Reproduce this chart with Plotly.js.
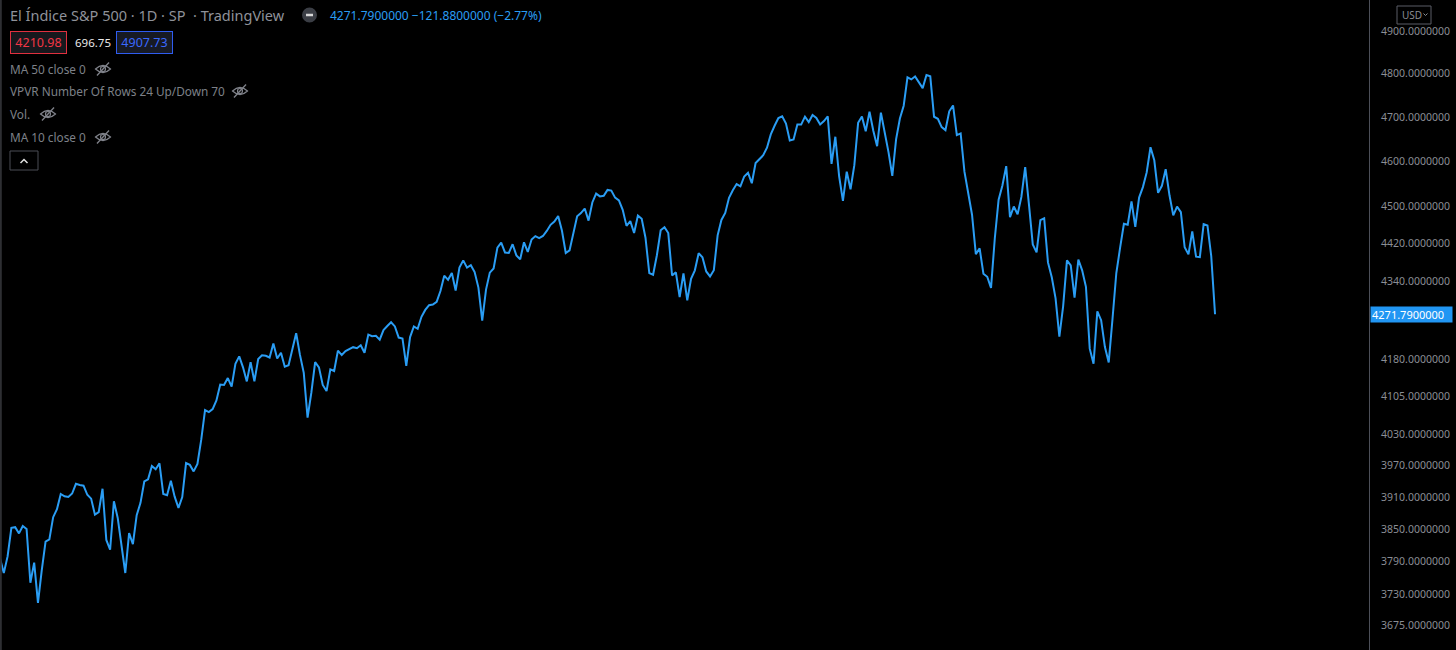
<!DOCTYPE html>
<html>
<head>
<meta charset="utf-8">
<script src="https://cdn.plot.ly/plotly-3.0.1.min.js"></script>
<style>
html,body{margin:0;padding:0;background:#000;}
#chart{width:1456px;height:650px;}
</style>
</head>
<body>
<div id="chart"></div>
<script>
// ---- Data: S&P 500 daily closes ----
const dates = [
"2021-01-13","2021-01-14","2021-01-15","2021-01-19","2021-01-20","2021-01-21","2021-01-22","2021-01-25","2021-01-26","2021-01-27","2021-01-28","2021-01-29",
"2021-02-01","2021-02-02","2021-02-03","2021-02-04","2021-02-05","2021-02-08","2021-02-09","2021-02-10","2021-02-11","2021-02-12","2021-02-16","2021-02-17","2021-02-18","2021-02-19","2021-02-22","2021-02-23","2021-02-24","2021-02-25","2021-02-26",
"2021-03-01","2021-03-02","2021-03-03","2021-03-04","2021-03-05","2021-03-08","2021-03-09","2021-03-10","2021-03-11","2021-03-12","2021-03-15","2021-03-16","2021-03-17","2021-03-18","2021-03-19","2021-03-22","2021-03-23","2021-03-24","2021-03-25","2021-03-26","2021-03-29","2021-03-30","2021-03-31",
"2021-04-01","2021-04-05","2021-04-06","2021-04-07","2021-04-08","2021-04-09","2021-04-12","2021-04-13","2021-04-14","2021-04-15","2021-04-16","2021-04-19","2021-04-20","2021-04-21","2021-04-22","2021-04-23","2021-04-26","2021-04-27","2021-04-28","2021-04-29","2021-04-30",
"2021-05-03","2021-05-04","2021-05-05","2021-05-06","2021-05-07","2021-05-10","2021-05-11","2021-05-12","2021-05-13","2021-05-14","2021-05-17","2021-05-18","2021-05-19","2021-05-20","2021-05-21","2021-05-24","2021-05-25","2021-05-26","2021-05-27","2021-05-28",
"2021-06-01","2021-06-02","2021-06-03","2021-06-04","2021-06-07","2021-06-08","2021-06-09","2021-06-10","2021-06-11","2021-06-14","2021-06-15","2021-06-16","2021-06-17","2021-06-18","2021-06-21","2021-06-22","2021-06-23","2021-06-24","2021-06-25","2021-06-28","2021-06-29","2021-06-30",
"2021-07-01","2021-07-02","2021-07-06","2021-07-07","2021-07-08","2021-07-09","2021-07-12","2021-07-13","2021-07-14","2021-07-15","2021-07-16","2021-07-19","2021-07-20","2021-07-21","2021-07-22","2021-07-23","2021-07-26","2021-07-27","2021-07-28","2021-07-29","2021-07-30",
"2021-08-02","2021-08-03","2021-08-04","2021-08-05","2021-08-06","2021-08-09","2021-08-10","2021-08-11","2021-08-12","2021-08-13","2021-08-16","2021-08-17","2021-08-18","2021-08-19","2021-08-20","2021-08-23","2021-08-24","2021-08-25","2021-08-26","2021-08-27","2021-08-30","2021-08-31",
"2021-09-01","2021-09-02","2021-09-03","2021-09-07","2021-09-08","2021-09-09","2021-09-10","2021-09-13","2021-09-14","2021-09-15","2021-09-16","2021-09-17","2021-09-20","2021-09-21","2021-09-22","2021-09-23","2021-09-24","2021-09-27","2021-09-28","2021-09-29","2021-09-30",
"2021-10-01","2021-10-04","2021-10-05","2021-10-06","2021-10-07","2021-10-08","2021-10-11","2021-10-12","2021-10-13","2021-10-14","2021-10-15","2021-10-18","2021-10-19","2021-10-20","2021-10-21","2021-10-22","2021-10-25","2021-10-26","2021-10-27","2021-10-28","2021-10-29",
"2021-11-01","2021-11-02","2021-11-03","2021-11-04","2021-11-05","2021-11-08","2021-11-09","2021-11-10","2021-11-11","2021-11-12","2021-11-15","2021-11-16","2021-11-17","2021-11-18","2021-11-19","2021-11-22","2021-11-23","2021-11-24","2021-11-26","2021-11-29","2021-11-30",
"2021-12-01","2021-12-02","2021-12-03","2021-12-06","2021-12-07","2021-12-08","2021-12-09","2021-12-10","2021-12-13","2021-12-14","2021-12-15","2021-12-16","2021-12-17","2021-12-20","2021-12-21","2021-12-22","2021-12-23","2021-12-27","2021-12-28","2021-12-29","2021-12-30","2021-12-31",
"2022-01-03","2022-01-04","2022-01-05","2022-01-06","2022-01-07","2022-01-10","2022-01-11","2022-01-12","2022-01-13","2022-01-14","2022-01-18","2022-01-19","2022-01-20","2022-01-21","2022-01-24","2022-01-25","2022-01-26","2022-01-27","2022-01-28","2022-01-31",
"2022-02-01","2022-02-02","2022-02-03","2022-02-04","2022-02-07","2022-02-08","2022-02-09","2022-02-10","2022-02-11","2022-02-14","2022-02-15","2022-02-16","2022-02-17","2022-02-18","2022-02-22","2022-02-23","2022-02-24","2022-02-25","2022-02-28",
"2022-03-01","2022-03-02","2022-03-03","2022-03-04","2022-03-07","2022-03-08","2022-03-09","2022-03-10","2022-03-11","2022-03-14","2022-03-15","2022-03-16","2022-03-17","2022-03-18","2022-03-21","2022-03-22","2022-03-23","2022-03-24","2022-03-25","2022-03-28","2022-03-29","2022-03-30","2022-03-31",
"2022-04-01","2022-04-04","2022-04-05","2022-04-06","2022-04-07","2022-04-08","2022-04-11","2022-04-12","2022-04-13","2022-04-14","2022-04-18","2022-04-19","2022-04-20","2022-04-21","2022-04-22"
];
const closes = [
3809.84,3795.54,3768.25,3798.91,3851.85,3853.07,3841.47,3855.36,3849.62,3750.77,3787.38,3714.24,
3773.86,3826.31,3830.17,3871.74,3886.83,3915.59,3911.23,3909.88,3916.38,3934.83,3932.59,3931.33,3913.97,3906.71,3876.50,3881.37,3925.43,3829.34,3811.15,
3901.82,3870.29,3819.72,3768.47,3841.94,3821.35,3875.44,3898.81,3939.34,3943.34,3968.94,3962.71,3974.12,3915.46,3913.10,3940.59,3910.52,3889.14,3909.52,3974.54,3971.09,3958.55,3972.89,
4019.87,4077.91,4073.94,4079.95,4097.17,4128.80,4127.99,4141.59,4124.66,4170.42,4185.47,4163.26,4134.94,4173.42,4134.98,4180.17,4187.62,4186.72,4183.18,4211.47,4181.17,
4192.66,4164.66,4167.59,4201.62,4232.60,4188.43,4152.10,4063.04,4112.50,4173.85,4163.29,4127.83,4115.68,4159.12,4155.86,4197.05,4188.13,4195.99,4200.88,4204.11,
4202.04,4208.12,4192.85,4229.89,4226.52,4227.26,4219.55,4239.18,4247.44,4255.15,4246.59,4223.70,4221.86,4166.45,4224.79,4246.44,4241.84,4266.49,4280.70,4290.61,4291.80,4297.50,
4319.94,4352.34,4343.54,4358.13,4320.82,4369.55,4384.63,4369.21,4374.30,4360.03,4327.16,4258.49,4323.06,4358.69,4367.48,4411.79,4422.30,4401.46,4400.64,4419.15,4395.26,
4387.16,4423.15,4402.66,4429.10,4436.52,4432.35,4436.75,4447.70,4460.83,4468.00,4479.71,4448.08,4400.27,4405.80,4441.67,4479.53,4486.23,4496.19,4470.00,4509.37,4528.79,4522.68,
4524.09,4536.95,4535.43,4520.03,4514.07,4493.28,4458.58,4468.73,4443.05,4480.70,4473.75,4432.99,4357.73,4354.19,4395.64,4448.98,4455.48,4443.11,4352.63,4359.46,4307.54,
4357.04,4300.46,4345.72,4363.55,4399.76,4391.34,4361.19,4350.65,4363.80,4438.26,4471.37,4486.46,4519.63,4536.19,4549.78,4544.90,4566.48,4574.79,4551.68,4596.42,4605.38,
4613.67,4630.65,4660.57,4680.06,4697.53,4701.70,4685.25,4646.71,4649.27,4682.85,4682.80,4700.90,4688.67,4704.54,4697.96,4682.94,4690.70,4701.46,4594.62,4655.27,4567.00,
4513.04,4577.10,4538.43,4591.67,4686.75,4701.21,4667.45,4712.02,4668.97,4634.09,4709.85,4668.67,4620.64,4568.02,4649.23,4696.56,4725.79,4791.19,4786.35,4793.06,4778.73,4766.18,
4796.56,4793.54,4700.58,4696.05,4677.03,4670.29,4713.07,4726.35,4659.03,4662.85,4577.11,4532.76,4482.73,4397.94,4410.13,4356.45,4349.93,4326.51,4431.85,4515.55,
4546.54,4589.38,4477.44,4500.53,4483.87,4521.54,4587.18,4504.08,4418.64,4401.67,4471.07,4475.01,4380.26,4348.87,4304.76,4225.50,4288.70,4384.65,4373.94,
4306.26,4386.54,4363.49,4328.87,4201.09,4170.70,4277.88,4259.52,4204.31,4173.11,4262.45,4357.86,4411.67,4463.12,4461.18,4511.61,4456.24,4520.16,4543.06,4575.52,4631.60,4602.45,4530.41,
4545.86,4582.64,4525.12,4481.15,4500.21,4488.28,4412.53,4397.45,4446.59,4392.59,4391.69,4462.21,4459.45,4393.66,4271.79
];
const yTickVals = [4900,4800,4700,4600,4500,4420,4340,4180,4105,4030,3970,3910,3850,3790,3730,3675];
const yTickText = yTickVals.map(v => v.toFixed(7));
const titleText = "El Índice S&P 500 · 1D · SP\u00a0\u00a0· TradingView";
const lastText = "4271.7900000";
const changeText = "4271.7900000\u00a0\u2212121.8800000\u00a0(\u22122.77%)";
const lowText = "4210.98", spanText = "696.75", highText = "4907.73";
const indicatorLabels = ["MA 50 close 0", "VPVR Number Of Rows 24 Up/Down 70", "Vol.", "MA 10 close 0"];

// ---- Layout helpers (pixel -> paper) ----
const PW = 1369, PH = 650;
const px = x => x / PW;
const py = y => 1 - y / PH;
const P = (x, y) => px(x) + ',' + py(y);

const lineColor = '#2a9df4';
const gray = '#7d8088';

const annotations = [];
const shapes = [];
function label(text, x, y, opts) {
  annotations.push(Object.assign({
    text: text, xref: 'paper', yref: 'paper', x: px(x), y: py(y),
    xanchor: 'left', yanchor: 'middle', showarrow: false,
    font: {family: 'Noto Sans, sans-serif', size: 12, color: gray}
  }, opts || {}));
}

label(titleText, 8, 15, {font: {family: 'Noto Sans, sans-serif', size: 14.5, color: '#8f929a'}});
label(changeText, 328, 15, {font: {family: 'Noto Sans, sans-serif', size: 12, color: lineColor}});
label(lowText, 10, 42, {font: {family: 'Noto Sans, sans-serif', size: 12.5, color: '#f23645'},
  bordercolor: '#e0303f', borderwidth: 1, borderpad: 3, bgcolor: '#17181d', width: 49, height: 15});
label(spanText, 73, 42, {font: {family: 'Noto Sans, sans-serif', size: 11.5, color: '#e8e8e8'}});
label(highText, 116, 42, {font: {family: 'Noto Sans, sans-serif', size: 12.5, color: '#3a68ff'},
  bordercolor: '#2f5cf0', borderwidth: 1, borderpad: 3, bgcolor: '#171a24', width: 49, height: 15});

const indY = [69, 91, 114, 137];
const eyeX = [103, 240, 48, 103];
indicatorLabels.forEach((t, i) => label(t, 8, indY[i], {font: {family: 'Noto Sans, sans-serif', size: 11.8, color: gray}}));

function eye(cx, cy) {
  const c = '#80838b';
  shapes.push({type: 'path', xref: 'paper', yref: 'paper',
    path: 'M' + P(cx - 7.5, cy) + ' Q' + P(cx, cy - 7) + ' ' + P(cx + 7.5, cy) + ' Q' + P(cx, cy + 7) + ' ' + P(cx - 7.5, cy) + ' Z',
    line: {color: c, width: 1.2}});
  shapes.push({type: 'circle', xref: 'paper', yref: 'paper',
    x0: px(cx - 2.5), x1: px(cx + 2.5), y0: py(cy + 2.5), y1: py(cy - 2.5), line: {color: c, width: 1.2}});
  shapes.push({type: 'line', xref: 'paper', yref: 'paper',
    x0: px(cx - 6), y0: py(cy + 6.5), x1: px(cx + 6), y1: py(cy - 6.5), line: {color: c, width: 1.3}});
}
eyeX.forEach((x, i) => eye(x, indY[i]));

// header circle icon with minus
shapes.push({type: 'circle', xref: 'paper', yref: 'paper', x0: px(302), x1: px(317), y0: py(22.5), y1: py(7.5),
  fillcolor: '#3b3e45', line: {width: 0}});
shapes.push({type: 'line', xref: 'paper', yref: 'paper', x0: px(306), x1: px(313), y0: py(15), y1: py(15),
  line: {color: '#d8d8d8', width: 2.5}});

// collapse button
shapes.push({type: 'rect', xref: 'paper', yref: 'paper', x0: px(10), x1: px(38), y0: py(170), y1: py(151),
  line: {color: '#4a4d55', width: 1}, fillcolor: '#000'});
shapes.push({type: 'path', xref: 'paper', yref: 'paper', path: 'M' + P(20.5, 163) + ' L' + P(24, 159.5) + ' L' + P(27.5, 163),
  line: {color: '#e0e0e0', width: 1.5}});

// left edge
shapes.push({type: 'line', xref: 'paper', yref: 'paper', x0: px(0.8), x1: px(0.8), y0: 0, y1: 1,
  line: {color: '#2e2f33', width: 2}});

// USD box
shapes.push({type: 'rect', xref: 'paper', yref: 'paper', x0: px(1397), x1: px(1431), y0: py(24), y1: py(6),
  line: {color: '#5a5d66', width: 1}});
shapes.push({type: 'path', xref: 'paper', yref: 'paper', path: 'M' + P(1423.5, 13.5) + ' L' + P(1425.5, 15.5) + ' L' + P(1427.5, 13.5),
  line: {color: '#8a8d93', width: 1}});
label('USD', 1399.5, 15, {font: {family: 'Noto Sans, sans-serif', size: 10, color: '#8a8d93'}});

// last price tag on axis
annotations.push({text: lastText, xref: 'paper', yref: 'y', x: px(1370), y: Math.log10(closes[closes.length - 1]),
  xanchor: 'left', yanchor: 'middle', showarrow: false, align: 'left',
  bgcolor: '#2196f3', borderpad: 1, width: 79, height: 13,
  font: {family: 'Noto Sans, sans-serif', size: 11, color: '#ffffff'}});

const trace = {
  x: dates, y: closes, type: 'scatter', mode: 'lines',
  line: {color: lineColor, width: 2}, hoverinfo: 'skip'
};

const layout = {
  width: 1456, height: 650,
  margin: {l: 0, r: 1456 - PW, t: 0, b: 0},
  paper_bgcolor: '#000000', plot_bgcolor: '#000000',
  showlegend: false,
  xaxis: {type: 'category', range: [1, 1 + PW / 3.797], showgrid: false, zeroline: false,
    showticklabels: false, showline: false, ticks: ''},
  yaxis: {type: 'log', side: 'right', range: [Math.log10(3630.5), Math.log10(4974.1)],
    tickmode: 'array', tickvals: yTickVals, ticktext: yTickText,
    showgrid: false, zeroline: false, showline: true, linecolor: '#4c4f58', linewidth: 1,
    ticks: '', ticklabelstandoff: 9,
    tickfont: {family: 'Noto Sans, sans-serif', size: 10.5, color: '#8b8e95'}},
  annotations: annotations,
  shapes: shapes
};

Plotly.newPlot('chart', [trace], layout, {displayModeBar: false, staticPlot: true});
</script>
</body>
</html>
